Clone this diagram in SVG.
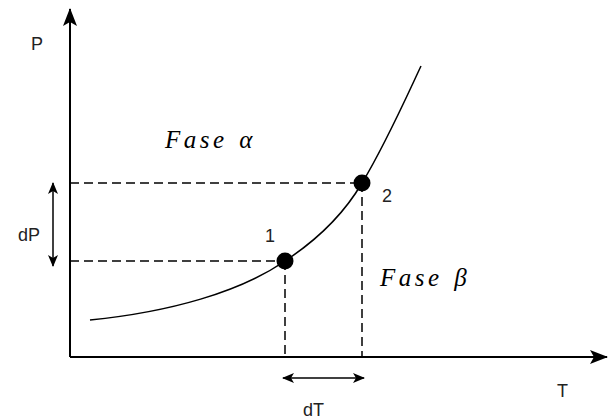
<svg xmlns="http://www.w3.org/2000/svg" width="609" height="420" viewBox="0 0 609 420">
<defs>
<marker id="ah" viewBox="0 0 12 10" refX="11" refY="5" markerWidth="12" markerHeight="10" markerUnits="userSpaceOnUse" orient="auto-start-reverse">
<path d="M0,0 L12,5 L0,10 L3,5 Z" fill="#000"/>
</marker>
<marker id="ahBig" viewBox="0 0 18 14" refX="17" refY="7" markerWidth="18" markerHeight="14" markerUnits="userSpaceOnUse" orient="auto">
<path d="M0,0 L18,7 L0,14 L4,7 Z" fill="#000"/>
</marker>
</defs>
<style>
.ax{stroke:#000;stroke-width:2;fill:none}
.ln{stroke:#000;stroke-width:1.5;fill:none}
.dash{stroke:#000;stroke-width:1.5;fill:none;stroke-dasharray:9,5}
.lbl{font-family:"Liberation Sans",Arial,sans-serif;font-size:18px;fill:#222}
.it{font-family:"Liberation Serif","Times New Roman",serif;font-style:italic;font-size:25px;letter-spacing:3.5px;word-spacing:2px;fill:#000}
</style>
<rect width="609" height="420" fill="#fff"/>
<g id="connectors">
<line class="ax" x1="70" y1="357" x2="70" y2="9" marker-end="url(#ahBig)"/>
<line class="ax" x1="70" y1="357" x2="607" y2="357" marker-end="url(#ahBig)"/>
<path class="ln" d="M90,320 C170,312 240,292 285,261 C320,238 345,212 362,183 C385,145 405,100 421,66"/>
<line class="dash" x1="70" y1="183" x2="362" y2="183"/>
<line class="dash" x1="70" y1="261" x2="285" y2="261"/>
<line class="dash" x1="285" y1="261" x2="285" y2="357"/>
<line class="dash" x1="362" y1="183" x2="362" y2="357"/>
<line class="ln" x1="53" y1="183" x2="53" y2="266" marker-start="url(#ah)" marker-end="url(#ah)"/>
<line class="ln" x1="283" y1="378" x2="364" y2="378" marker-start="url(#ah)" marker-end="url(#ah)"/>
</g>
<g id="point1"><circle cx="285" cy="261" r="8.5" fill="#000"/><text class="lbl" x="265" y="242">1</text></g>
<g id="point2"><circle cx="362" cy="183" r="8.5" fill="#000"/><text class="lbl" x="382" y="202">2</text></g>
<g id="labels">
<text class="lbl" x="31" y="50">P</text>
<text class="lbl" x="557" y="397">T</text>
<text class="lbl" x="18" y="241">dP</text>
<text class="lbl" x="303" y="416">dT</text>
<text class="it" x="165" y="148">Fase α</text>
<text class="it" x="380" y="286">Fase β</text>
</g>
</svg>
